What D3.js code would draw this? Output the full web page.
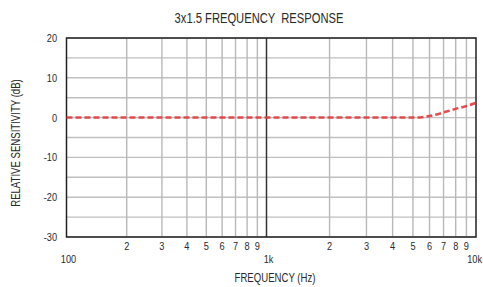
<!DOCTYPE html>
<html>
<head>
<meta charset="utf-8">
<script src="https://cdn.jsdelivr.net/npm/d3@7"></script>
<style>
  body { margin: 0; background: #fff; }
  svg text { font-family: "Liberation Sans", Arial, sans-serif; fill: #2a2a2a; }
</style>
</head>
<body>
<svg class="svg" width="483" height="287"></svg>
<script>
// data
const freq = [100, 200, 500, 1000, 2000, 3000, 4000, 5000, 5500, 6000, 6500, 7000, 8000, 9000, 10000];
const gain = [0, 0, 0, 0, 0, 0, 0, 0, 0.1, 0.4, 0.8, 1.3, 2.2, 2.9, 3.7];
const minorMults = [2, 3, 4, 5, 6, 7, 8, 9];
const decades = [100, 1000];
const decadeLabels = ['100', '1k', '10k'];
const yTicks = [20, 10, 0, -10, -20, -30];
const yGrid = [15, 5, -5, -15, -25];

const svg = d3.select('.svg');
const pLeft = 66.5, pRight = 476, pTop = 38, pBottom = 237;

const x = d3.scaleLog().domain([100, 1000, 10000]).range([pLeft, 266.5, pRight]);
const y = d3.scaleLinear().domain([-30, 20]).range([pBottom, pTop]);

// condensed look: squeeze text horizontally
function addText(tx, ty, str, size, anchor, rot) {
  const g = svg.append('g')
    .attr('transform', `translate(${tx},${ty})` + (rot ? ` rotate(${rot})` : '') + ' scale(0.8,1)');
  g.append('text').attr('text-anchor', anchor).style('font-size', size + 'px')
    .style('white-space', 'pre').text(str);
}

// horizontal grid
svg.selectAll('.hgrid').data(yTicks.concat(yGrid)).enter().append('line')
  .attr('x1', pLeft).attr('x2', pRight)
  .attr('y1', d => y(d)).attr('y2', d => y(d))
  .style('stroke', '#c0c0c0').style('stroke-width', 1.4);

// vertical minor grid
const minors = [];
decades.forEach(d => minorMults.forEach(m => minors.push(d * m)));
svg.selectAll('.vgrid').data(minors).enter().append('line')
  .attr('x1', d => x(d)).attr('x2', d => x(d))
  .attr('y1', pTop).attr('y2', pBottom)
  .style('stroke', '#b8b8b8').style('stroke-width', 1.4);

// 1k line
svg.append('line')
  .attr('x1', x(1000)).attr('x2', x(1000)).attr('y1', pTop).attr('y2', pBottom)
  .style('stroke', '#333').style('stroke-width', 1.5);

// border
svg.append('rect')
  .attr('x', pLeft).attr('y', pTop).attr('width', pRight - pLeft).attr('height', pBottom - pTop)
  .style('fill', 'none').style('stroke', '#222').style('stroke-width', 1.5);

// curve
const line = d3.line().x(d => x(d)).y((d, i) => y(gain[i])).curve(d3.curveMonotoneX);
svg.append('path').attr('d', line(freq))
  .style('fill', 'none').style('stroke', '#e23a3c').style('stroke-width', 2.5)
  .style('stroke-dasharray', '6,3').style('opacity', 0.9);

// y labels
yTicks.forEach(d => addText(57, y(d) + 4, String(d), 11.5, 'end'));

// minor x labels
minors.forEach(d => addText(x(d), 250, String(d / (d < 1000 ? 100 : 1000)), 11.5, 'middle'));

// decade labels
[100, 1000].forEach((d, i) => addText(x(d) + 2, 263, decadeLabels[i], 11.5, 'middle'));
addText(482, 263, decadeLabels[2], 11.5, 'end');

// titles
addText(259, 23, '3x1.5 FREQUENCY  RESPONSE', 14, 'middle');
addText(275, 282, 'FREQUENCY (Hz)', 12, 'middle');
addText(20, 143, 'RELATIVE SENSITIVITY (dB)', 12, 'middle', -90);
</script>
</body>
</html>
